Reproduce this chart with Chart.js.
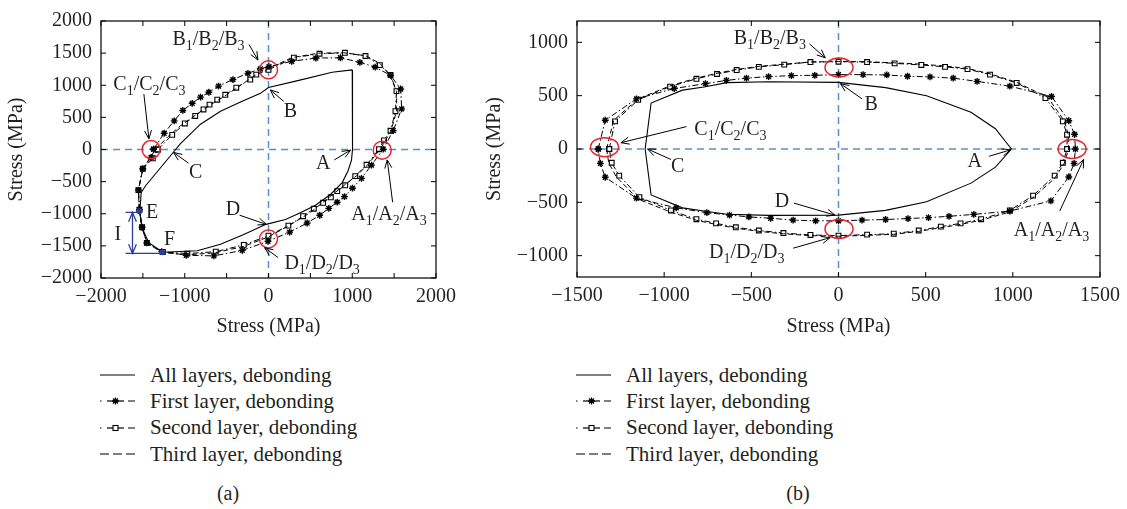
<!DOCTYPE html>
<html lang="en">
<head>
<meta charset="UTF-8">
<title>Stress hysteresis loops</title>
<style>
    body {
        margin: 0;
        width: 1127px;
        height: 509px;
        background: #fff;
        position: relative;
        overflow: hidden;
        font-family: "Liberation Serif", "Times New Roman", serif;
        color: #231f20;
    }
    canvas { position: absolute; top: 0; }
    #chartA { left: 0; }
    #chartB { left: 480px; }
    .legend {
        position: absolute;
        top: 362px;
        font-size: 21px;
    }
    .legend div {
        height: 26.3px;
        display: flex;
        align-items: center;
        white-space: nowrap;
    }
    .legend svg { width: 35px; height: 12px; margin-right: 15px; flex: none; }
    .cap { position: absolute; top: 482px; font-size: 20px; transform: translateX(-50%); }
</style>
<script src="https://cdn.jsdelivr.net/npm/chart.js"></script>
</head>
<body>
<canvas id="chartA" width="470" height="341"></canvas>
<canvas id="chartB" width="647" height="341"></canvas>

<div class="legend" style="left:100px" id="legA"></div>
<div class="legend" style="left:576px" id="legB"></div>
<div class="cap" style="left:228px">(a)</div>
<div class="cap" style="left:798px">(b)</div>

<script>
// ---- panel (a) data ----
const aAllX = [1000, 1003, 1003, 991, 950, 880, 740, 561, 380, 203, -30, -295, -573, -851, -1262, -1430, -1509, -1537, -1520, -1465, -1131, -1051, -812, -573, -334, -96, 0, 362, 760, 1000];
const aAllY = [1240, 700, 0, -165, -330, -515, -700, -868, -985, -1091, -1165, -1323, -1475, -1576, -1600, -1450, -1222, -980, -667, -560, -35, 91, 394, 595, 738, 874, 965, 1076, 1202, 1240];

const aFirstX = [-1372, -1246, -1126, -1023, -911, -811, -712, -596, -425, -246, -98, 6, 277, 565, 859, 1091, 1274, 1458, 1578, 1590, 1490, 1370, 1230, 1110, 1003, 907, 820, 720, 612, 461, 253, -6, -313, -652, -983, -1274, -1453, -1509, -1541, -1553, -1501, -1402, -1372];
const aFirstY = [5, 253, 446, 608, 719, 815, 891, 987, 1089, 1185, 1256, 1291, 1372, 1423, 1428, 1357, 1281, 1154, 942, 633, 294, 5, -243, -450, -602, -734, -820, -916, -1023, -1144, -1286, -1428, -1570, -1656, -1646, -1590, -1453, -1210, -937, -633, -299, -122, 5];

const aSecondX = [-1322, -1150, -999, -875, -776, -704, -612, -516, -385, -218, -146, 0, 303, 609, 912, 1158, 1329, 1457, 1528, 1516, 1457, 1379, 1320, 1171, 1036, 916, 820, 744, 652, 541, 413, 237, 0, -295, -630, -969, -1262, -1453, -1509, -1541, -1553, -1501, -1382, -1322];
const aSecondY = [0, 228, 405, 522, 623, 699, 775, 851, 962, 1089, 1165, 1240, 1429, 1490, 1505, 1455, 1313, 1162, 909, 596, 292, 142, 5, -238, -415, -557, -648, -744, -830, -922, -1038, -1185, -1342, -1484, -1590, -1620, -1595, -1453, -1210, -937, -633, -299, -137, 0];

const aThirdX = [-1350, -1200, -1050, -900, -700, -500, -300, -150, 0, 280, 600, 900, 1160, 1330, 1450, 1530, 1530, 1460, 1330, 1190, 1050, 900, 700, 500, 250, 0, -300, -650, -980, -1270, -1450, -1510, -1545, -1553, -1500, -1350];
const aThirdY = [0, 200, 370, 510, 690, 850, 1030, 1160, 1260, 1430, 1500, 1505, 1460, 1340, 1160, 900, 600, 280, 0, -230, -410, -560, -770, -980, -1180, -1360, -1510, -1610, -1640, -1600, -1460, -1210, -940, -630, -300, 0];

const aXMarks = [-2000, -1500, -1000, -500, 0, 500, 1000, 1500, 2000];
const aXLabels = [-2000, -1000, 0, 1000, 2000];
const aYTicks = [-2000, -1500, -1000, -500, 0, 500, 1000, 1500, 2000];

// ---- panel (b) data ----
const bAllX = [992, 900, 760, 505, 270, 0, -400, -640, -772, -895, -1075, -1109, -1075, -895, -772, -640, -400, 0, 270, 505, 760, 900, 992];
const bAllY = [0, 190, 345, 500, 575, 625, 630, 622, 582, 552, 431, 0, -431, -552, -582, -612, -622, -620, -575, -495, -320, -170, 0];

const bFirstX = [-1378, -1338, -1159, -942, -763, -643, -528, -401, -270, -136, 0, 141, 277, 396, 525, 658, 795, 983, 1222, 1321, 1354, 1359, 1351, 1321, 1218, 983, 776, 634, 516, 399, 270, 135, 0, -131, -260, -389, -514, -625, -755, -931, -1159, -1338, -1366, -1378];
const bFirstY = [0, 270, 470, 567, 613, 643, 664, 679, 688, 691, 697, 697, 694, 682, 676, 664, 634, 589, 492, 265, 138, 0, -135, -262, -486, -582, -613, -631, -643, -652, -661, -667, -673, -673, -667, -649, -637, -619, -597, -552, -461, -265, -135, 0];

const bSecondX = [-1315, -1282, -1149, -966, -815, -697, -584, -457, -311, -161, 0, 164, 322, 475, 611, 740, 869, 1022, 1187, 1287, 1311, 1311, 1287, 1240, 1116, 983, 818, 700, 587, 460, 317, 164, 0, -161, -316, -457, -589, -702, -815, -961, -1142, -1258, -1301, -1315];
const bSecondY = [0, 259, 461, 585, 658, 703, 740, 770, 791, 815, 818, 815, 803, 788, 770, 749, 697, 619, 477, 259, 134, 0, -129, -250, -437, -576, -658, -697, -728, -764, -794, -803, -812, -806, -788, -764, -734, -697, -658, -576, -452, -250, -129, 0];

const bThirdX = [-1330, -1290, -1150, -966, -815, -697, -584, -457, -311, -161, 0, 164, 322, 475, 611, 740, 869, 1022, 1200, 1295, 1318, 1320, 1295, 1240, 1116, 983, 818, 700, 587, 460, 317, 164, 0, -161, -316, -457, -590, -700, -815, -965, -1150, -1275, -1318, -1330];
const bThirdY = [0, 268, 470, 592, 665, 710, 746, 775, 795, 816, 820, 818, 808, 795, 778, 755, 705, 625, 485, 265, 135, 0, -135, -275, -455, -590, -668, -707, -738, -772, -800, -810, -818, -812, -795, -772, -742, -708, -668, -590, -470, -260, -130, 0];

const bXTicks = [-1500, -1000, -500, 0, 500, 1000, 1500];
const bYTicks = [-1000, -500, 0, 500, 1000];

const seriesNames = ['All layers, debonding', 'First layer, debonding', 'Second layer, debonding', 'Third layer, debonding'];

const FONT = '"Liberation Serif", "Times New Roman", serif';
const INK = '#231f20';
Chart.defaults.font.family = FONT;
Chart.defaults.color = INK;

function pts(xs, ys) {
    return xs.map((v, i) => ({ x: v, y: ys[i] }));
}
function fmt(v) {
    return String(v).replace('-', '\u2212');
}

function datasets(allX, allY, fX, fY, sX, sY, tX, tY) {
    return [
        { data: pts(allX, allY), showLine: true, borderColor: '#000', borderWidth: 1.1, pointRadius: 0, tension: 0 },
        { data: pts(tX, tY), showLine: true, borderColor: '#000', borderWidth: 1, borderDash: [5, 3], pointRadius: 0, tension: 0 },
        { data: pts(fX, fY), showLine: true, borderColor: '#000', borderWidth: 1, borderDash: [6, 2.5, 1.5, 2.5],
          pointStyle: 'star', pointRadius: 3.4, pointBorderWidth: 1.4, pointBorderColor: '#000', pointBackgroundColor: '#000', tension: 0 },
        { data: pts(sX, sY), showLine: true, borderColor: '#000', borderWidth: 1, borderDash: [6, 2.5, 1.5, 2.5],
          pointStyle: 'rect', pointRadius: 3.4, pointBorderWidth: 1.1, pointBorderColor: '#000', pointBackgroundColor: '#fff', tension: 0 }
    ];
}

// draws "B_1/B_2/B_3" with subscripts, centred on (cx, cy)
function rich(ctx, s, cx, cy, size) {
    const parts = [];
    for (let i = 0; i < s.length; i++) {
        if (s[i] === '_') { parts.push({ t: s[i + 1], sub: true }); i++; }
        else parts.push({ t: s[i], sub: false });
    }
    const big = size + 'px ' + FONT, small = Math.round(size * 0.68) + 'px ' + FONT;
    let w = 0;
    parts.forEach(p => { ctx.font = p.sub ? small : big; p.w = ctx.measureText(p.t).width; w += p.w; });
    let xx = cx - w / 2;
    ctx.textAlign = 'left';
    ctx.textBaseline = 'middle';
    parts.forEach(p => {
        ctx.font = p.sub ? small : big;
        ctx.fillText(p.t, xx, p.sub ? cy + size * 0.32 : cy);
        xx += p.w;
    });
}

function arrowHead(ctx, x1, y1, x2, y2, len) {
    const ang = Math.atan2(y2 - y1, x2 - x1);
    ctx.beginPath();
    ctx.moveTo(x2 - len * Math.cos(ang - 0.4), y2 - len * Math.sin(ang - 0.4));
    ctx.lineTo(x2, y2);
    ctx.lineTo(x2 - len * Math.cos(ang + 0.4), y2 - len * Math.sin(ang + 0.4));
    ctx.stroke();
}

function makeDeco(cfg) {
    return {
        id: 'deco',
        beforeDatasetsDraw(chart) {
            const { ctx, chartArea: a, scales: { x, y } } = chart;
            const px = x.getPixelForValue(0), py = y.getPixelForValue(0);
            ctx.save();
            ctx.strokeStyle = '#5b8fd0';
            ctx.lineWidth = 1.5;
            ctx.setLineDash([7, 5]);
            ctx.beginPath();
            ctx.moveTo(px, a.top); ctx.lineTo(px, a.bottom);
            ctx.moveTo(a.left, py); ctx.lineTo(a.right, py);
            ctx.stroke();
            ctx.restore();
        },
        afterDatasetsDraw(chart) {
            const { ctx, chartArea: a, scales: { x, y } } = chart;
            const X = v => x.getPixelForValue(v), Y = v => y.getPixelForValue(v);
            ctx.save();
            // frame and inward ticks
            ctx.strokeStyle = '#000';
            ctx.lineWidth = 1.2;
            ctx.strokeRect(a.left, a.top, a.right - a.left, a.bottom - a.top);
            ctx.lineWidth = 1;
            ctx.beginPath();
            x.ticks.forEach(t => {
                const p = X(t.value);
                ctx.moveTo(p, a.bottom); ctx.lineTo(p, a.bottom - 5);
                ctx.moveTo(p, a.top); ctx.lineTo(p, a.top + 5);
            });
            y.ticks.forEach(t => {
                const p = Y(t.value);
                ctx.moveTo(a.left, p); ctx.lineTo(a.left + 5, p);
                ctx.moveTo(a.right, p); ctx.lineTo(a.right - 5, p);
            });
            ctx.stroke();

            // red circles round the marked points
            ctx.strokeStyle = '#e3262d';
            ctx.lineWidth = 1.5;
            cfg.circles.forEach(c => {
                ctx.beginPath();
                ctx.ellipse(X(c[0]), Y(c[1]), cfg.rx, cfg.ry, 0, 0, Math.PI * 2);
                ctx.stroke();
            });

            // arrows
            ctx.strokeStyle = '#000';
            ctx.lineWidth = 1;
            cfg.arrows.forEach(r => {
                const x1 = X(r[0]), y1 = Y(r[1]), x2 = X(r[2]), y2 = Y(r[3]);
                ctx.beginPath(); ctx.moveTo(x1, y1); ctx.lineTo(x2, y2); ctx.stroke();
                arrowHead(ctx, x1, y1, x2, y2, 9);
            });

            // labels
            ctx.fillStyle = INK;
            cfg.labels.forEach(l => rich(ctx, l[0], X(l[1]), Y(l[2]), cfg.size));

            if (cfg.extra) cfg.extra(ctx, X, Y);
            ctx.restore();
        }
    };
}

function axes(xMin, xMax, xMarks, xLab, yMin, yMax, yTicks, yWidth, xHeight, yTitlePad, xTitlePad) {
    return {
        x: {
            type: 'linear', min: xMin, max: xMax,
            afterBuildTicks: s => { s.ticks = xMarks.map(v => ({ value: v })); },
            afterFit: s => { s.height = xHeight; },
            grid: { display: false, drawTicks: false },
            border: { display: false },
            ticks: {
                autoSkip: false, maxRotation: 0, padding: 7, color: INK,
                font: { size: 20, family: FONT },
                callback: v => xLab.includes(v) ? fmt(v) : ''
            },
            title: { display: true, text: 'Stress (MPa)', color: INK, font: { size: 20, family: FONT }, padding: { top: 0, bottom: xTitlePad } }
        },
        y: {
            type: 'linear', min: yMin, max: yMax,
            afterBuildTicks: s => { s.ticks = yTicks.map(v => ({ value: v })); },
            afterFit: s => { s.width = yWidth; },
            grid: { display: false, drawTicks: false },
            border: { display: false },
            ticks: {
                autoSkip: false, padding: 9, color: INK,
                font: { size: 20, family: FONT },
                callback: v => fmt(v)
            },
            title: { display: true, text: 'Stress (MPa)', color: INK, font: { size: 20, family: FONT }, padding: { top: yTitlePad, bottom: 0 } }
        }
    };
}

const baseOpts = {
    responsive: false,
    animation: false,
    events: [],
    plugins: { legend: { display: false }, tooltip: { enabled: false } }
};

// ---- chart (a) ----
new Chart(document.getElementById('chartA'), {
    type: 'scatter',
    data: { datasets: datasets(aAllX, aAllY, aFirstX, aFirstY, aSecondX, aSecondY, aThirdX, aThirdY) },
    options: Object.assign({}, baseOpts, {
        layout: { padding: { top: 14, right: 34, left: 0, bottom: 0 } },
        scales: axes(-2000, 2000, aXMarks, aXLabels, -2000, 2000, aYTicks, 101, 63, 5, 2)
    }),
    plugins: [makeDeco({
        size: 20, rx: 9, ry: 9,
        circles: [[-1402, 0], [0, 1240], [1358, -10], [0, -1392]],
        arrows: [
            [-233, 1635, -126, 1392],
            [-1488, 861, -1428, 167],
            [182, 749, 22, 927],
            [-955, -213, -1134, -46],
            [785, -162, 980, -10],
            [-345, -1023, -26, -1165],
            [1482, -820, 1418, -162],
            [114, -1681, -46, -1529]
        ],
        labels: [
            ['B_1/B_2/B_3', -716, 1711],
            ['C_1/C_2/C_3', -1422, 1003],
            ['B', 262, 587],
            ['C', -871, -365],
            ['A', 653, -223],
            ['D', -425, -932],
            ['A_1/A_2/A_3', 1438, -1023],
            ['D_1/D_2/D_3', 640, -1782],
            ['E', -1389, -982],
            ['F', -1182, -1403],
            ['I', -1800, -1327]
        ],
        extra(ctx, X, Y) {
            ctx.strokeStyle = '#2b3d9b';
            ctx.fillStyle = '#2b3d9b';
            ctx.lineWidth = 1.3;
            ctx.beginPath();
            ctx.moveTo(X(-1707), Y(-980)); ctx.lineTo(X(-1541), Y(-980));
            ctx.moveTo(X(-1707), Y(-1617)); ctx.lineTo(X(-1262), Y(-1617));
            ctx.moveTo(X(-1624), Y(-980)); ctx.lineTo(X(-1624), Y(-1617));
            ctx.stroke();
            arrowHead(ctx, X(-1624), Y(-1300), X(-1624), Y(-980), 10);
            arrowHead(ctx, X(-1624), Y(-1300), X(-1624), Y(-1617), 10);
            [[-1541, -960], [-1268, -1600]].forEach(p => {
                ctx.beginPath(); ctx.arc(X(p[0]), Y(p[1]), 3, 0, Math.PI * 2); ctx.fill();
            });
        }
    })]
});

// ---- chart (b) ----
new Chart(document.getElementById('chartB'), {
    type: 'scatter',
    data: { datasets: datasets(bAllX, bAllY, bFirstX, bFirstY, bSecondX, bSecondY, bThirdX, bThirdY) },
    options: Object.assign({}, baseOpts, {
        layout: { padding: { top: 14, right: 21, left: 0, bottom: 0 } },
        scales: axes(-1500, 1500, bXTicks, bXTicks, -1200, 1200, bYTicks, 97, 64, 3, 2)
    }),
    plugins: [makeDeco({
        size: 20, rx: 14, ry: 9.5,
        circles: [[3, 764], [-1342, 17], [1340, 0], [3, -749]],
        arrows: [
            [-166, 985, -76, 855],
            [135, 470, 11, 613],
            [-872, 210, -1248, 59],
            [-961, -98, -1095, 0],
            [864, -68, 987, -8],
            [-256, -507, -20, -620],
            [-260, -930, -48, -831],
            [1269, -582, 1406, -98]
        ],
        labels: [
            ['B_1/B_2/B_3', -394, 1036],
            ['B', 187, 416],
            ['C_1/C_2/C_3', -620, 180],
            ['C', -923, -165],
            ['A', 782, -123],
            ['D', -324, -492],
            ['D_1/D_2/D_3', -526, -976],
            ['A_1/A_2/A_3', 1222, -764]
        ]
    })]
});

// ---- legends ----
const samples = [
    '<line x1="0" y1="6" x2="35" y2="6" stroke="#000" stroke-width="1.2"/>',
    '<line x1="0" y1="6" x2="1.5" y2="6" stroke="#000"/><line x1="7" y1="6" x2="24" y2="6" stroke="#000" stroke-width="1.2"/>' +
        '<line x1="28" y1="6" x2="35" y2="6" stroke="#000"/>' +
        '<path d="M15.5 2.5V9.5M12 6H19M13 3.5L18 8.5M18 3.5L13 8.5" stroke="#000" stroke-width="1.3"/>',
    '<line x1="0" y1="6" x2="1.5" y2="6" stroke="#000"/><line x1="7" y1="6" x2="24" y2="6" stroke="#000" stroke-width="1.2"/>' +
        '<line x1="28" y1="6" x2="35" y2="6" stroke="#000"/>' +
        '<rect x="13" y="3.5" width="5" height="5" fill="#fff" stroke="#000" stroke-width="1.1"/>',
    '<line x1="0" y1="6" x2="35" y2="6" stroke="#000" stroke-width="1.1" stroke-dasharray="9,4"/>'
];
['legA', 'legB'].forEach(id => {
    document.getElementById(id).innerHTML = seriesNames.map((n, i) =>
        `<div><svg viewBox="0 0 35 12">${samples[i]}</svg><span>${n}</span></div>`).join('');
});
</script>
</body>
</html>
